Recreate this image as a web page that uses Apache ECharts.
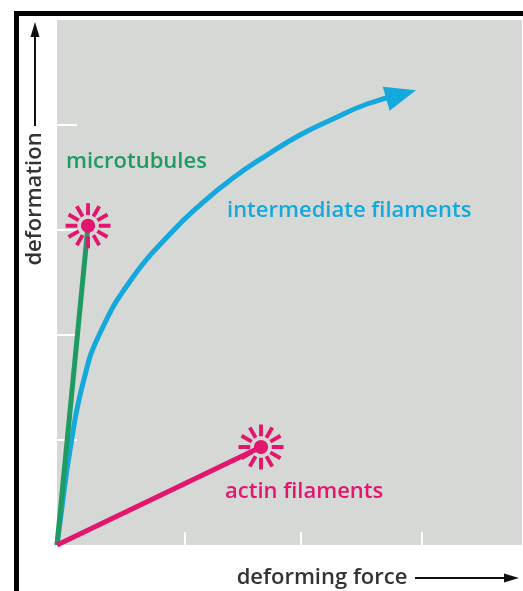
<!DOCTYPE html>
<html>
<head>
<meta charset="utf-8">
<script src="https://cdn.jsdelivr.net/npm/echarts@6/dist/echarts.min.js"></script>
<style>
  html, body { margin: 0; padding: 0; background: #fff; }
  #chart { width: 523px; height: 591px; }
</style>
</head>
<body>
<div id="chart"></div>
<script>
// force / deformation, arbitrary units
const microtubules = [[0, 0], [0.267, 3.04]];
const actinFilaments = [[0, 0], [1.755, 0.933]];
const intermediateFilaments = [
  [0, 0], [0.032, 0.267], [0.112, 0.905], [0.224, 1.543], [0.37, 2.019],
  [0.654, 2.552], [0.972, 2.962], [1.23, 3.238], [1.514, 3.495],
  [1.806, 3.714], [2.09, 3.905], [2.374, 4.057], [2.667, 4.2], [2.96, 4.29]
];
const xTicks = [1.1, 2.1, 3.14];
const yTicks = [1, 2, 3, 4];

const GREEN = '#1f9a60';
const MAGENTA = '#e2166f';
const BLUE = '#15a8dc';
const FONT = '600 22px "Open Sans", "Noto Sans", sans-serif';

// starburst symbol: dot plus radiating dashes
const starPath = (() => {
  let d = 'M 7 0 A 7 7 0 1 1 -7 0 A 7 7 0 1 1 7 0 Z ';
  const r1 = 10.5, r2 = 22, w = 1.9;
  for (let i = 0; i < 12; i++) {
    const a = i * Math.PI / 6;
    const c = Math.cos(a), s = Math.sin(a);
    const px = -s * w, py = c * w;
    const p = [
      [r1 * c + px, r1 * s + py], [r2 * c + px, r2 * s + py],
      [r2 * c - px, r2 * s - py], [r1 * c - px, r1 * s - py]
    ].map(q => q[0].toFixed(2) + ' ' + q[1].toFixed(2));
    d += 'M ' + p[0] + ' L ' + p[1] + ' L ' + p[2] + ' L ' + p[3] + ' Z ';
  }
  return 'path://' + d;
})();

const withEnd = (pts, sym) => pts.map((p, i) =>
  i === pts.length - 1 ? Object.assign({ value: p }, sym) : { value: p, symbol: 'none' });

const star = { symbol: starPath, symbolSize: 45, symbolKeepAspect: true, itemStyle: { color: MAGENTA } };

const chart = echarts.init(document.getElementById('chart'));
chart.setOption({
  animation: false,
  backgroundColor: '#fff',
  grid: {
    left: 57, right: 1, top: 20, bottom: 46,
    show: true, backgroundColor: '#d6d8d5', borderWidth: 0
  },
  xAxis: {
    type: 'value', min: 0, max: 4,
    axisLine: { show: false },
    splitLine: { show: false },
    axisLabel: { show: false },
    axisTick: { show: true, inside: true, length: 13, customValues: xTicks,
      lineStyle: { color: '#fff', width: 2 } }
  },
  yAxis: {
    type: 'value', min: 0, max: 5,
    axisLine: { show: false },
    splitLine: { show: false },
    axisLabel: { show: false },
    axisTick: { show: true, inside: true, length: 20, customValues: yTicks,
      lineStyle: { color: '#fff', width: 2 } }
  },
  series: [
    {
      name: 'intermediate filaments', type: 'line', smooth: 0.5,
      lineStyle: { color: BLUE, width: 5 },
      itemStyle: { color: BLUE },
      data: withEnd(intermediateFilaments, {
        symbol: 'triangle', symbolSize: [25, 31], symbolRotate: -74
      })
    },
    {
      name: 'microtubules', type: 'line',
      lineStyle: { color: GREEN, width: 5 },
      data: withEnd(microtubules, star), z: 3
    },
    {
      name: 'actin filaments', type: 'line',
      lineStyle: { color: MAGENTA, width: 5 },
      data: withEnd(actinFilaments, star), z: 3
    }
  ],
  graphic: [
    { type: 'rect', shape: { x: 16.5, y: 13.5, width: 520, height: 600 },
      style: { fill: null, stroke: '#000', lineWidth: 5 }, z: 10 },
    // y axis arrow
    { type: 'line', shape: { x1: 35, y1: 126, x2: 35, y2: 34 },
      style: { stroke: '#111', lineWidth: 2 } },
    { type: 'polygon', shape: { points: [[35, 22], [39.5, 37], [30.5, 37]] },
      style: { fill: '#111' } },
    { type: 'text', x: 35, y: 199, rotation: Math.PI / 2,
      style: { text: 'deformation', font: FONT, fill: '#333',
        align: 'center', verticalAlign: 'middle' } },
    // x axis arrow
    { type: 'text', x: 322, y: 578,
      style: { text: 'deforming force', font: FONT, fill: '#333',
        align: 'center', verticalAlign: 'middle' } },
    { type: 'line', shape: { x1: 415, y1: 578, x2: 506, y2: 578 },
      style: { stroke: '#111', lineWidth: 2 } },
    { type: 'polygon', shape: { points: [[519, 578], [504, 573.5], [504, 582.5]] },
      style: { fill: '#111' } },
    // series labels
    { type: 'text', x: 66, y: 162,
      style: { text: 'microtubules', font: FONT, fill: GREEN,
        align: 'left', verticalAlign: 'middle' } },
    { type: 'text', x: 227, y: 211,
      style: { text: 'intermediate filaments', font: FONT, fill: BLUE,
        align: 'left', verticalAlign: 'middle' } },
    { type: 'text', x: 225, y: 492,
      style: { text: 'actin filaments', font: FONT, fill: MAGENTA,
        align: 'left', verticalAlign: 'middle' } }
  ]
});
</script>
</body>
</html>
